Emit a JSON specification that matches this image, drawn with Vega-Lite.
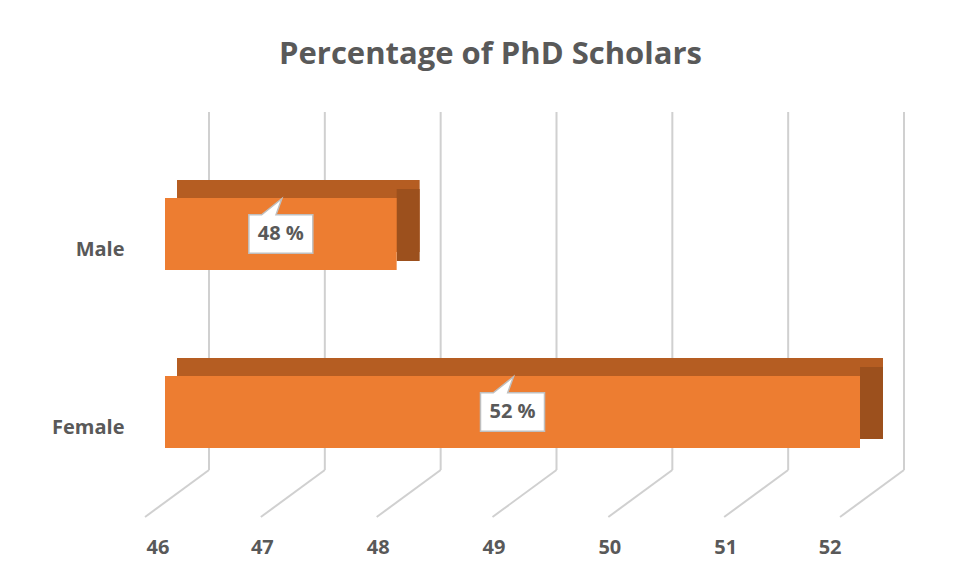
{
  "$schema": "https://vega.github.io/schema/vega-lite/v6.json",
  "autosize": "none",
  "width": 695,
  "height": 358,
  "padding": {"left": 165, "top": 112, "right": 98, "bottom": 111},
  "background": "white",
  "config": {"view": {"stroke": null}, "font": "Open Sans"},
  "title": {
    "text": "Percentage of PhD Scholars",
    "font": "Open Sans",
    "fontSize": 31,
    "fontWeight": "bold",
    "color": "#595959",
    "anchor": "middle",
    "dx": -22,
    "offset": 40
  },
  "datasets": {
    "shares": [
      {"gender": "Male", "value": 48},
      {"gender": "Female", "value": 52}
    ],
    "ticks": [{"t": 46}, {"t": 47}, {"t": 48}, {"t": 49}, {"t": 50}, {"t": 51}, {"t": 52}]
  },
  "layer": [
    {
      "data": {"name": "ticks"},
      "mark": {"type": "rule", "color": "#d0d0d0", "strokeWidth": 2, "xOffset": 44},
      "encoding": {
        "x": {
          "field": "t",
          "type": "quantitative",
          "scale": {"domain": [46, 52], "zero": false, "nice": false},
          "axis": {
            "title": null,
            "values": [46, 47, 48, 49, 50, 51, 52],
            "format": "d",
            "domain": false,
            "ticks": false,
            "grid": false,
            "labelPadding": 67,
            "labelOffset": -19,
            "labelFont": "Open Sans",
            "labelFontWeight": "bold",
            "labelFontSize": 20,
            "labelColor": "#595959"
          }
        }
      }
    },
    {
      "data": {"name": "ticks"},
      "mark": {"type": "rule", "color": "#d0d0d0", "strokeWidth": 2, "xOffset": 44, "x2Offset": -20, "y2Offset": 47},
      "encoding": {
        "x": {"field": "t", "type": "quantitative"},
        "x2": {"field": "t"},
        "y": {"value": "height"},
        "y2": {"value": "height"}
      }
    },
    {
      "data": {"name": "shares"},
      "mark": {"type": "bar", "color": "#B55D22", "xOffset": 23, "x2Offset": 12, "yOffset": -34, "y2Offset": -34},
      "encoding": {
        "y": {"field": "gender", "type": "nominal", "sort": ["Male", "Female"],
              "scale": {"paddingInner": 0.5955, "paddingOuter": 0.3034, "align": 0.944},
              "axis": {"title": null, "domain": false, "ticks": false, "labelPadding": 41, "labelFont": "Open Sans", "labelFontWeight": "bold", "labelFontSize": 20, "labelColor": "#595959"}},
        "x": {"field": "value", "type": "quantitative"},
        "x2": {"datum": 46}
      }
    },
    {
      "data": {"name": "shares"},
      "mark": {"type": "bar", "color": "#9C501D", "xOffset": 23, "x2Offset": 0, "yOffset": -25, "y2Offset": -25},
      "encoding": {
        "y": {"field": "gender", "type": "nominal", "sort": ["Male", "Female"]},
        "x": {"field": "value", "type": "quantitative"},
        "x2": {"field": "value"}
      }
    },
    {
      "data": {"name": "shares"},
      "mark": {"type": "bar", "color": "#ED7D31", "yOffset": -16, "y2Offset": -16},
      "encoding": {
        "y": {"field": "gender", "type": "nominal", "sort": ["Male", "Female"]},
        "x": {"field": "value", "type": "quantitative"},
        "x2": {"datum": 46}
      }
    },
    {
      "data": {"name": "shares"},
      "transform": [{"calculate": "(datum.value + 46) / 2", "as": "mid"}],
      "mark": {"type": "point", "shape": "M-1,-0.6L-0.6,-0.6L0.03,-1.1L-0.15,-0.6L1,-0.6L1,0.6L-1,0.6Z", "size": 4096, "filled": true, "fill": "white", "stroke": "#bfbfbf", "strokeWidth": 1.5, "opacity": 1, "yOffset": -16},
      "encoding": {
        "y": {"field": "gender", "type": "nominal", "sort": ["Male", "Female"]},
        "x": {"field": "mid", "type": "quantitative"}
      }
    },
    {
      "data": {"name": "shares"},
      "transform": [
        {"calculate": "(datum.value + 46) / 2", "as": "mid"},
        {"calculate": "datum.value + ' %'", "as": "lbl"}
      ],
      "mark": {"type": "text", "font": "Open Sans", "fontWeight": "bold", "fontSize": 20, "color": "#595959", "align": "center", "baseline": "middle", "yOffset": -16},
      "encoding": {
        "y": {"field": "gender", "type": "nominal", "sort": ["Male", "Female"]},
        "x": {"field": "mid", "type": "quantitative"},
        "text": {"field": "lbl"}
      }
    }
  ]
}
